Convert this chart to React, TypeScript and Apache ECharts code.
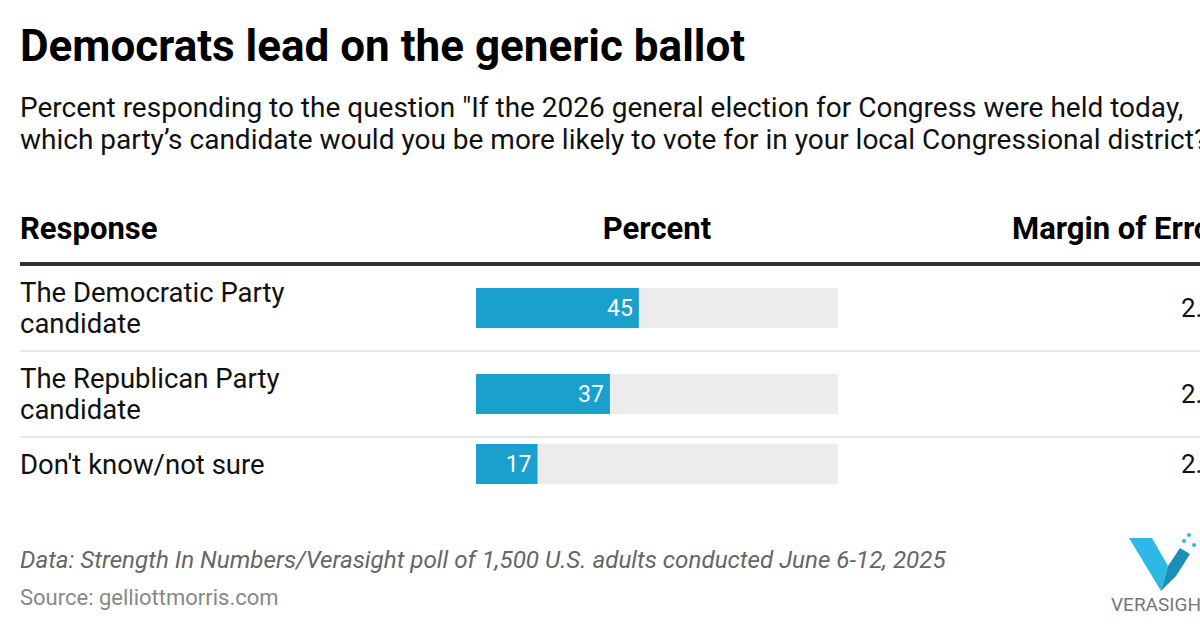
import React, { useEffect, useRef } from "react";
import * as echarts from "echarts";

const title = "Democrats lead on the generic ballot";
const subtitleLines = [
  'Percent responding to the question "If the 2026 general election for Congress were held today,',
  "which party\u2019s candidate would you be more likely to vote for in your local Congressional district?\"",
];
const headers = ["Response", "Percent", "Margin of Error"];
const responses = ["The Democratic Party\ncandidate", "The Republican Party\ncandidate", "Don't know/not sure"];
const percents = [45, 37, 17];
const margins = ["2.5", "2.5", "2.0"];
const footnote = "Data: Strength In Numbers/Verasight poll of 1,500 U.S. adults conducted June 6-12, 2025";
const source = "Source: gelliottmorris.com";

const FONT = "Roboto, 'Noto Sans', sans-serif";
const barTops = [288, 374, 444];
const barH = 40;
const barLeft = 476;
const barW = 362;
const sepYs = [351, 437];

export default function App() {
  const ref = useRef<HTMLDivElement>(null);
  useEffect(() => {
    if (!ref.current) return;
    const chart = echarts.init(ref.current, null, { renderer: "svg" });
    const grids = barTops.map((t) => ({ left: barLeft, top: t, width: barW, height: barH }));
    const xAxes = barTops.map((_, i) => ({
      type: "value" as const, gridIndex: i, min: 0, max: 100, show: false,
    }));
    const yAxes = responses.map((r, i) => ({
      type: "category" as const, gridIndex: i, data: [r],
      axisLine: { show: false }, axisTick: { show: false },
      axisLabel: {
        align: "left" as const, margin: barLeft - 20, fontFamily: FONT,
        fontSize: 27.5, color: "#111", lineHeight: 31,
      },
    }));
    const series = percents.map((v, i) => ({
      type: "bar" as const, xAxisIndex: i, yAxisIndex: i, data: [v],
      barWidth: barH, showBackground: true,
      backgroundStyle: { color: "#ececec" },
      itemStyle: { color: "#1aa0cc" },
      label: {
        show: true, position: "insideRight" as const, color: "#fff",
        fontFamily: FONT, fontSize: 23, distance: 6,
      },
    }));
    const graphic: any[] = [
      { type: "text", x: 20, y: 46, style: { text: title, font: `bold 44px ${FONT}`, fill: "#000", verticalAlign: "middle" } },
      ...subtitleLines.map((s, i) => ({
        type: "text", x: 20, y: 107 + i * 32,
        style: { text: s, font: `28px ${FONT}`, fill: "#111", verticalAlign: "middle" },
      })),
      { type: "text", x: 20, y: 228, style: { text: headers[0], font: `bold 31px ${FONT}`, fill: "#000", verticalAlign: "middle" } },
      { type: "text", x: 657, y: 228, style: { text: headers[1], font: `bold 31px ${FONT}`, fill: "#000", align: "center", verticalAlign: "middle" } },
      { type: "text", x: 1012, y: 228, style: { text: headers[2], font: `bold 31px ${FONT}`, fill: "#000", verticalAlign: "middle" } },
      { type: "rect", shape: { x: 20, y: 262, width: 1180, height: 4 }, style: { fill: "#333" } },
      ...sepYs.map((y) => ({ type: "rect", shape: { x: 20, y: y - 1, width: 1180, height: 2 }, style: { fill: "#e8e8e8" } })),
      ...margins.map((m, i) => ({
        type: "text", x: 1181, y: barTops[i] + barH / 2,
        style: { text: m, font: `26px ${FONT}`, fill: "#111", verticalAlign: "middle" },
      })),
      { type: "text", x: 20, y: 560, style: { text: footnote, font: `italic 24.2px ${FONT}`, fill: "#666", verticalAlign: "middle" } },
      { type: "text", x: 20, y: 597, style: { text: source, font: `22px ${FONT}`, fill: "#888", verticalAlign: "middle" } },
      // Verasight logo
      { type: "polygon", shape: { points: [[1129, 538], [1152, 538], [1168, 566], [1161, 591]] }, style: { fill: "#2eb8e6" } },
      { type: "polygon", shape: { points: [[1161, 591], [1168, 566], [1180, 548], [1190, 554], [1176, 576]] }, style: { fill: "#1c8fb8" } },
      { type: "circle", shape: { cx: 1184, cy: 541, r: 2 }, style: { fill: "#2eb8e6" } },
      { type: "circle", shape: { cx: 1189, cy: 535, r: 2 }, style: { fill: "#2eb8e6" } },
      { type: "circle", shape: { cx: 1194, cy: 545, r: 2 }, style: { fill: "#2eb8e6" } },
      { type: "text", x: 1111, y: 604, style: { text: "VERASIGHT", font: `19px ${FONT}`, fill: "#777", verticalAlign: "middle" } },
    ];
    chart.setOption({
      animation: false,
      backgroundColor: "#fff",
      grid: grids,
      xAxis: xAxes,
      yAxis: yAxes,
      series,
      graphic,
    });
    return () => chart.dispose();
  }, []);
  return (
    <div style={{ position: "absolute", left: 0, top: 0, width: 1200, height: 630, overflow: "hidden" }}>
      <div ref={ref} style={{ width: 1200, height: 630 }} />
    </div>
  );
}
